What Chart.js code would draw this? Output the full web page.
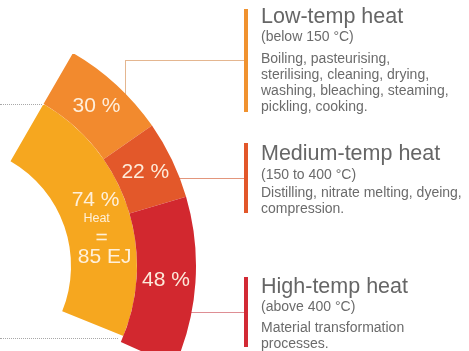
<!DOCTYPE html>
<html lang="en">
<head>
  <meta charset="UTF-8">
  <title>Industrial heat by temperature</title>
  <script src="https://cdn.jsdelivr.net/npm/chart.js@4.4.1/dist/chart.umd.min.js"></script>
  <style>
    html, body {
      margin: 0;
      padding: 0;
      background: #ffffff;
    }
    #page {
      position: relative;
      width: 469px;
      height: 351px;
      overflow: hidden;
      font-family: "Liberation Sans", Arial, Helvetica, sans-serif;
      color: #6b6b6b;
    }
    #chartBox {
      position: absolute;
      left: 0;
      top: 0;
      width: 469px;
      height: 351px;
      z-index: 2;
    }
    .line, .bar, .dots { position: absolute; z-index: 1; }
    .line { border-top: 1.3px solid; height: 0; }
    .vline { border-left: 1.3px solid; width: 0; }
    .bar { width: 4px; }
    .dots { height: 0; border-top: 1.2px dotted #a8a8a8; }
    .note { position: absolute; left: 261px; white-space: nowrap; z-index: 3; }
    .note .t { font-size: 21.5px; line-height: 21.5px; color: #666; }
    .note .s { font-size: 14px; line-height: 16.2px; }
  </style>
</head>
<body>
<div id="page">

  <!-- leader lines from the far side and to the notes -->
  <div class="dots" style="left:0; top:104px; width:42px;"></div>
  <div class="dots" style="left:0; top:338px; width:118px;"></div>

  <div class="line" style="left:125px; top:59.5px; width:120px; border-color:#e4b690;"></div>
  <div class="line vline" style="left:125px; top:60px; height:40px; border-color:#e4b690;"></div>
  <div class="line" style="left:170px; top:178px; width:75px; border-color:#e3967c;"></div>
  <div class="line" style="left:175px; top:312px; width:70px; border-color:#de8e94;"></div>

  <div class="bar" style="left:244px; top:9px; height:103px; background:#f0922f;"></div>
  <div class="bar" style="left:244px; top:143px; height:70px; background:#e2572a;"></div>
  <div class="bar" style="left:244px; top:277px; height:70px; background:#d22a35;"></div>

  <div class="note t" style="top:5.8px;"><div class="t">Low-temp heat</div></div>
  <div class="note" style="top:28px;">
    <div class="s">(below 150 °C)</div>
  </div>
  <div class="note" style="top:49.5px;">
    <div class="s">Boiling, pasteurising,</div>
    <div class="s">sterilising, cleaning, drying,</div>
    <div class="s">washing, bleaching, steaming,</div>
    <div class="s">pickling, cooking.</div>
  </div>

  <div class="note" style="top:142.8px;"><div class="t">Medium-temp heat</div></div>
  <div class="note" style="top:166px;">
    <div class="s">(150 to 400 °C)</div>
  </div>
  <div class="note" style="top:184px;">
    <div class="s">Distilling, nitrate melting, dyeing,</div>
    <div class="s">compression.</div>
  </div>

  <div class="note" style="top:275.8px;"><div class="t">High-temp heat</div></div>
  <div class="note" style="top:298px;">
    <div class="s">(above 400 °C)</div>
  </div>
  <div class="note" style="top:318.5px;">
    <div class="s">Material transformation</div>
    <div class="s">processes.</div>
  </div>

  <div id="chartBox"><canvas id="heatArc"></canvas></div>
</div>

<script>
  // share of heat demand by temperature band (outer ring)
  const bands = ['Low-temp heat', 'Medium-temp heat', 'High-temp heat'];
  const bandShares = [30, 22, 48];
  const bandColors = ['#f28a2e', '#e3582a', '#d2282f'];

  // heat as a share of industrial energy use (inner ring)
  const heatLabels = ['Heat'];
  const heatShares = [74];
  const heatEnergy = ['85 EJ'];

  // ring geometry: hub sits off the left edge of the page
  const W = 469, H = 351;
  const HUB = { x: -50, y: 266 };
  const R_OUT = 246, R_IN = 121;
  const ROTATION = 30;
  const OUTER_SWEEP = 84, INNER_SWEEP = 82;

  // Chart.js centres a partial doughnut inside its chart area,
  // so pad the area until the hub lands where we want it
  function hubPadding() {
    const TAU = Math.PI * 2;
    const sweep = Math.max(OUTER_SWEEP, INNER_SWEEP);
    const a0 = (ROTATION - 90) * Math.PI / 180;
    const a1 = a0 + sweep * Math.PI / 180;
    const k = R_IN / R_OUT;
    const spans = t => (((t - a0) % TAU) + TAU) % TAU <= a1 - a0;
    const ends = (u, v) => [u, u * k, v, v * k];
    const xs = ends(Math.cos(a0), Math.cos(a1));
    const ys = ends(Math.sin(a0), Math.sin(a1));
    const maxX = spans(0) ? 1 : Math.max(...xs);
    const minX = spans(Math.PI) ? -1 : Math.min(...xs);
    const maxY = spans(Math.PI / 2) ? 1 : Math.max(...ys);
    const minY = spans(-Math.PI / 2) ? -1 : Math.min(...ys);
    const cx = HUB.x + (maxX + minX) / 2 * R_OUT;
    const cy = HUB.y + (maxY + minY) / 2 * R_OUT;
    return {
      left: cx > W / 2 ? 2 * cx - W : 0,
      right: cx < W / 2 ? W - 2 * cx : 0,
      top: cy > H / 2 ? 2 * cy - H : 0,
      bottom: cy < H / 2 ? H - 2 * cy : 0
    };
  }

  const LABEL_FONT = '"Liberation Sans", Arial, sans-serif';
  const LABEL_COLOR = 'rgba(255, 243, 228, 0.95)';

  // percentage text in the middle of each segment
  const arcLabels = {
    id: 'arcLabels',
    afterDatasetsDraw(chart) {
      const ctx = chart.ctx;
      ctx.save();
      ctx.fillStyle = LABEL_COLOR;
      ctx.textAlign = 'center';
      ctx.textBaseline = 'middle';

      ctx.font = '21px ' + LABEL_FONT;
      chart.getDatasetMeta(0).data.forEach((arc, i) => {
        const p = arc.getCenterPoint();
        ctx.fillText(bandShares[i] + ' %', p.x, p.y);
      });

      const p = chart.getDatasetMeta(1).data[0].getCenterPoint();
      ctx.fillText(heatShares[0] + ' %', p.x, p.y - 16);
      ctx.font = '12.5px ' + LABEL_FONT;
      ctx.fillText(heatLabels[0], p.x + 1, p.y + 3);
      ctx.font = '21px ' + LABEL_FONT;
      ctx.fillText('=', p.x + 6, p.y + 22);
      ctx.fillText(heatEnergy[0], p.x + 9, p.y + 41);
      ctx.restore();
    }
  };

  new Chart(document.getElementById('heatArc'), {
    type: 'doughnut',
    data: {
      labels: bands,
      datasets: [
        {
          label: 'Temperature band',
          data: bandShares,
          backgroundColor: bandColors,
          borderWidth: 0,
          circumference: OUTER_SWEEP,
          weight: 59
        },
        {
          label: 'Heat',
          data: heatShares,
          backgroundColor: ['#f6a71f'],
          borderWidth: 0,
          circumference: INNER_SWEEP,
          weight: 66
        }
      ]
    },
    options: {
      responsive: true,
      maintainAspectRatio: false,
      animation: false,
      events: [],
      rotation: ROTATION,
      radius: R_OUT,
      cutout: (R_IN / R_OUT * 100) + '%',
      layout: { padding: hubPadding() },
      plugins: {
        legend: { display: false },
        tooltip: { enabled: false }
      }
    },
    plugins: [arcLabels]
  });
</script>
</body>
</html>
